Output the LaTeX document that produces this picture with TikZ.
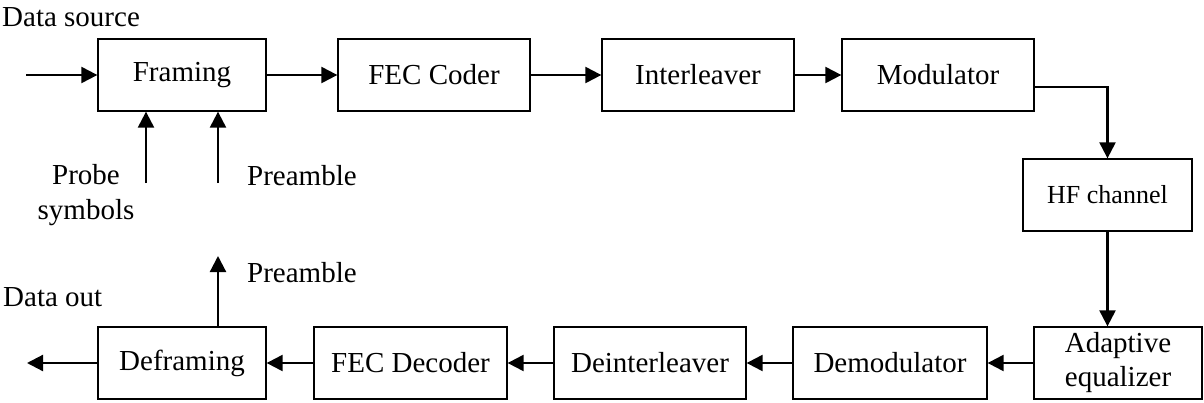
\documentclass[tikz,border=0pt]{standalone}
\usepackage{fontspec}
\setmainfont{Liberation Serif}
\usetikzlibrary{arrows.meta}
\begin{document}
\begin{tikzpicture}[x=1pt,y=-1pt,
  blk/.style={draw,line width=1.3pt,minimum height=72pt,inner sep=0pt,font=\fontsize{29}{34}\selectfont,align=center},
  lbl/.style={inner sep=0pt,font=\fontsize{29}{35}\selectfont},
  conn/.style={line width=2.2pt,-{Triangle[length=16pt,width=16pt]}}]
\useasboundingbox (0,0) rectangle (1204,402);
\node[blk,minimum width=168pt] (fr) at (182,75) {Framing};
\node[blk,minimum width=192pt] (fec) at (434,75) {FEC Coder};
\node[blk,minimum width=192pt] (il) at (698,75) {Interleaver};
\node[blk,minimum width=192pt] (mod) at (938,75) {Modulator};
\node[blk,minimum width=169pt,font=\fontsize{26}{30}\selectfont] (hf) at (1107.5,195) {HF channel};
\node[blk,minimum width=168pt] (ad) at (1118,363) {Adaptive\\equalizer};
\node[blk,minimum width=194pt] (dem) at (890,363) {Demodulator};
\node[blk,minimum width=192pt] (dil) at (650,363) {Deinterleaver};
\node[blk,minimum width=193pt] (fdec) at (410.5,363) {FEC Decoder};
\node[blk,minimum width=168pt] (dfr) at (182,363) {Deframing};
\node[lbl,anchor=base west] (ds) at (2,26) {Data source};
\node[lbl,align=center] (probe) at (86,195.5) {Probe\\symbols};
\node[lbl,anchor=base west] (pre1) at (247,185) {Preamble};
\node[lbl,anchor=base west] (pre2) at (247,282) {Preamble};
\node[lbl,anchor=base west] (dout) at (3,306) {Data out};
\coordinate (in) at (26,75);
\coordinate (out) at (27,363);
\coordinate (p1) at (146,183);
\coordinate (p2) at (218,183);
\coordinate (p3) at (218,256);
\draw[conn] (in) -- (fr.west);
\draw[conn] (fr.east) -- (fec.west);
\draw[conn] (fec.east) -- (il.west);
\draw[conn] (il.east) -- (mod.west);
\draw[conn] ([yshift=-12pt]mod.east) -| (hf.north);
\draw[conn] (hf.south) -- (hf.south |- ad.north);
\draw[conn] (ad.west) -- (dem.east);
\draw[conn] (dem.west) -- (dil.east);
\draw[conn] (dil.west) -- (fdec.east);
\draw[conn] (fdec.west) -- (dfr.east);
\draw[conn] (dfr.west) -- (out);
\draw[conn] (p1) -- (p1 |- fr.south);
\draw[conn] (p2) -- (p2 |- fr.south);
\draw[conn] (p3 |- dfr.north) -- (p3);
\end{tikzpicture}
\end{document}
